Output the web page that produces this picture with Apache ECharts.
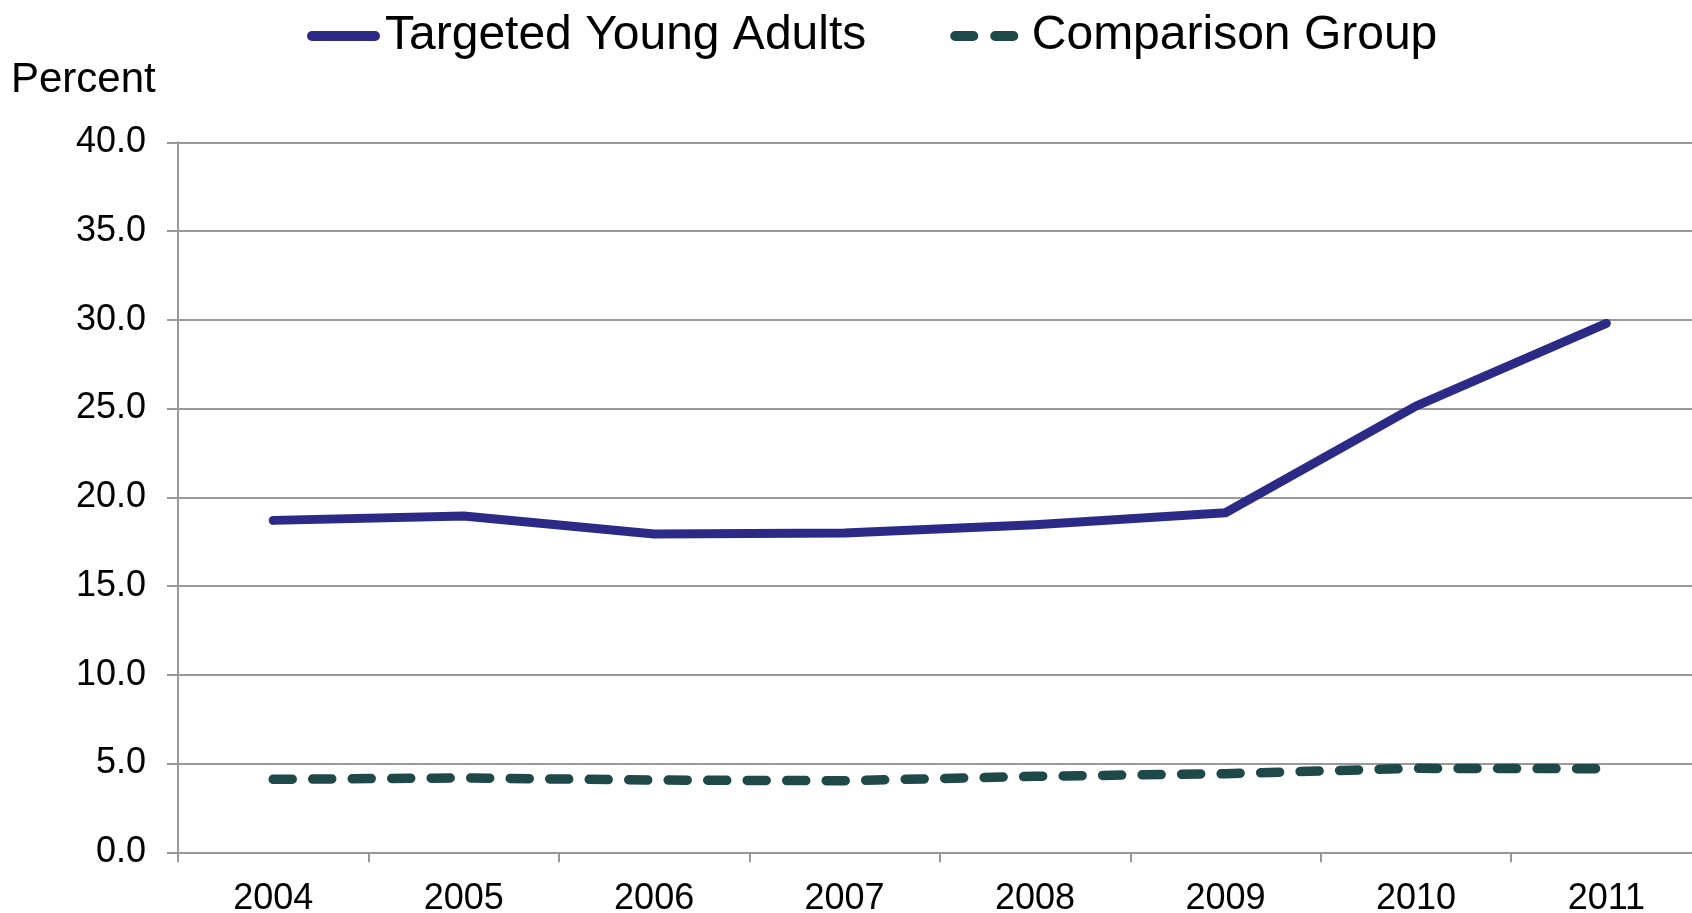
<!DOCTYPE html>
<html>
<head>
<meta charset="utf-8">
<title>Targeted Young Adults vs Comparison Group</title>
<script src="https://cdn.jsdelivr.net/npm/echarts@6/dist/echarts.min.js"></script>
<style>
  html, body { margin: 0; padding: 0; background: #ffffff; }
  #chart { width: 1692px; height: 913px; }
</style>
</head>
<body>
<div id="chart"></div>
<script>
// Years on the category axis
var years = ['2004', '2005', '2006', '2007', '2008', '2009', '2010', '2011'];
// Share (percent) for each group by year
var targetedYoungAdults = [18.7, 18.95, 17.93, 17.99, 18.46, 19.13, 25.14, 29.8];
var comparisonGroup = [4.11, 4.19, 4.07, 4.03, 4.28, 4.43, 4.73, 4.71];
// Series names shown in the legend
var seriesNames = ['Targeted Young Adults', 'Comparison Group'];
var yAxisTitle = 'Percent';

var FONT = '"Liberation Sans", Arial, Helvetica, sans-serif';
var GRID_COLOR = '#999999';
var TARGET_COLOR = '#2B2B87';
var COMPARE_COLOR = '#1F4949';

// Legend keys: a solid rounded bar and a pair of rounded dashes
var SOLID_KEY = 'path://M5,0 L68,0 A5,5 0 0 1 68,10 L5,10 A5,5 0 0 1 5,0 Z';
var DASH_KEY = 'path://M5,0 L23,0 A5,5 0 0 1 23,10 L5,10 A5,5 0 0 1 5,0 Z ' +
               'M45,0 L63,0 A5,5 0 0 1 63,10 L45,10 A5,5 0 0 1 45,0 Z';

var chart = echarts.init(document.getElementById('chart'), null, { renderer: 'canvas' });

chart.setOption({
  animation: false,
  backgroundColor: '#ffffff',
  textStyle: { fontFamily: FONT, color: '#000000' },
  title: {
    text: yAxisTitle,
    left: 11,
    top: 59,
    padding: 0,
    textStyle: { fontFamily: FONT, fontSize: 42, fontWeight: 'normal', color: '#000000' }
  },
  legend: {
    left: 307,
    top: 12,
    padding: 0,
    itemWidth: 73,
    itemHeight: 10,
    itemGap: 84,
    textStyle: { fontFamily: FONT, fontSize: 48, color: '#000000' },
    data: [
      { name: seriesNames[0], icon: SOLID_KEY, itemStyle: { color: TARGET_COLOR, borderWidth: 0 } },
      {
        name: seriesNames[1],
        icon: DASH_KEY,
        itemStyle: { color: COMPARE_COLOR, borderWidth: 0 },
        textStyle: { padding: [0, 0, 0, 6] }
      }
    ]
  },
  grid: {
    left: 178,
    top: 142.3,
    width: 1523.6,
    height: 710,
    containLabel: false,
    outerBoundsMode: 'none'
  },
  xAxis: {
    type: 'category',
    data: years,
    boundaryGap: true,
    axisLine: { show: true, lineStyle: { color: GRID_COLOR, width: 2 } },
    axisTick: { show: true, alignWithLabel: false, length: 10, lineStyle: { color: GRID_COLOR, width: 2 } },
    axisLabel: { fontFamily: FONT, fontSize: 36, color: '#000000', margin: 29 },
    splitLine: { show: false }
  },
  yAxis: {
    type: 'value',
    min: 0,
    max: 40,
    interval: 5,
    axisLine: { show: true, lineStyle: { color: GRID_COLOR, width: 2 } },
    axisTick: { show: true, inside: false, length: 11, lineStyle: { color: GRID_COLOR, width: 2 } },
    axisLabel: {
      fontFamily: FONT,
      fontSize: 36,
      color: '#000000',
      margin: 32,
      formatter: function (v) { return v.toFixed(1); }
    },
    splitLine: { show: true, lineStyle: { color: GRID_COLOR, width: 2 } }
  },
  series: [
    {
      name: seriesNames[0],
      type: 'line',
      data: targetedYoungAdults,
      symbol: 'none',
      showSymbol: false,
      color: TARGET_COLOR,
      lineStyle: { color: TARGET_COLOR, width: 9, cap: 'round', join: 'round' },
      z: 3
    },
    {
      name: seriesNames[1],
      type: 'line',
      data: comparisonGroup,
      symbol: 'none',
      showSymbol: false,
      color: COMPARE_COLOR,
      lineStyle: { color: COMPARE_COLOR, width: 9.5, type: [19, 20.5], cap: 'round', join: 'round' },
      z: 2
    }
  ]
});
</script>
</body>
</html>
